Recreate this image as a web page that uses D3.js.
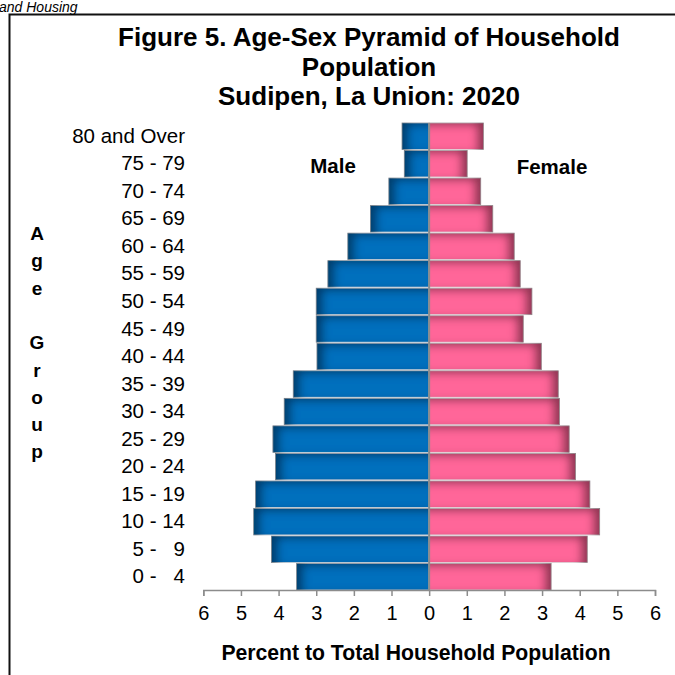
<!DOCTYPE html>
<html>
<head>
<meta charset="utf-8">
<script src="https://cdn.jsdelivr.net/npm/d3@7"></script>
<style>
  body { margin: 0; background: #fff; }
  svg { display: block; font-family: "Liberation Sans", Arial, sans-serif; }
</style>
</head>
<body>
<div id="chart"></div>
<script>
// age groups, bottom to top
var ageGroups = ["0 -   4", "5 -   9", "10 - 14", "15 - 19", "20 - 24", "25 - 29",
  "30 - 34", "35 - 39", "40 - 44", "45 - 49", "50 - 54", "55 - 59",
  "60 - 64", "65 - 69", "70 - 74", "75 - 79", "80 and Over"];

// percent of total household population
var malePct = [3.52, 4.19, 4.66, 4.61, 4.08, 4.15, 3.85, 3.61, 2.98, 3.00,
  3.00, 2.69, 2.16, 1.56, 1.07, 0.66, 0.72];
var femalePct = [3.24, 4.20, 4.53, 4.27, 3.89, 3.72, 3.46, 3.43, 2.98, 2.50,
  2.73, 2.42, 2.26, 1.69, 1.37, 1.01, 1.44];

var xTicks = [-6, -5, -4, -3, -2, -1, 0, 1, 2, 3, 4, 5, 6];

var titleLines = ["Figure 5. Age-Sex Pyramid of Household", "Population", "Sudipen, La Union: 2020"];

var svgWidth = 675;
var svgHeight = 675;

var svg = d3.select("#chart")
  .append("svg")
  .attr("width", svgWidth)
  .attr("height", svgHeight);

// inner shadow filters (male shadow on left edge, female on right edge)
var defs = svg.append("defs");
function innerShadow(id, dx, color) {
  var f = defs.append("filter")
    .attr("id", id)
    .attr("filterUnits", "userSpaceOnUse")
    .attr("x", 0).attr("y", 0)
    .attr("width", svgWidth).attr("height", svgHeight);
  f.append("feFlood").attr("flood-color", color).attr("flood-opacity", 0.75).attr("result", "flood");
  f.append("feComposite").attr("in", "flood").attr("in2", "SourceAlpha").attr("operator", "out").attr("result", "outside");
  f.append("feGaussianBlur").attr("in", "outside").attr("stdDeviation", 4).attr("result", "blur");
  f.append("feOffset").attr("in", "blur").attr("dx", dx).attr("dy", 3).attr("result", "off");
  f.append("feComposite").attr("in", "off").attr("in2", "SourceAlpha").attr("operator", "in").attr("result", "shadow");
  var m = f.append("feMerge");
  m.append("feMergeNode").attr("in", "SourceGraphic");
  m.append("feMergeNode").attr("in", "shadow");
}
innerShadow("shadowMale", 7, "#001a33");
innerShadow("shadowFemale", -7, "#3a0a1c");

// frame around the figure
svg.append("rect")
  .attr("x", 9.5)
  .attr("y", 14.5)
  .attr("width", 700)
  .attr("height", 700)
  .attr("fill", "none")
  .attr("stroke", "#111")
  .attr("stroke-width", 2);

// caption above the frame (left part runs off the page)
svg.append("text")
  .attr("x", -1)
  .attr("y", 12)
  .attr("font-size", "14px")
  .attr("font-style", "italic")
  .text("and Housing");

// title
svg.append("g")
  .selectAll("text")
  .data(titleLines)
  .enter()
  .append("text")
  .attr("x", 369)
  .attr("y", (d, i) => 46 + i * 29.5)
  .attr("text-anchor", "middle")
  .attr("font-size", "26px")
  .attr("font-weight", "bold")
  .text(d => d);

// scales
var xScale = d3.scaleLinear()
  .domain([-6, 6])
  .range([203.3, 655]);

var yScale = d3.scaleBand()
  .domain(ageGroups.slice().reverse())
  .range([123, 590])
  .paddingInner(0.04);

var rows = ageGroups.map((g, i) => ({ group: g, male: malePct[i], female: femalePct[i] }));

// male bars
svg.append("g")
  .selectAll("rect")
  .data(rows)
  .enter()
  .append("rect")
  .attr("x", d => xScale(-d.male))
  .attr("y", d => yScale(d.group))
  .attr("width", d => xScale(0) - xScale(-d.male))
  .attr("height", yScale.bandwidth())
  .attr("fill", "#006fbd")
  .attr("stroke", "#d8dde3")
  .attr("stroke-width", 0.8)
  .attr("filter", "url(#shadowMale)");

// female bars
svg.append("g")
  .selectAll("rect")
  .data(rows)
  .enter()
  .append("rect")
  .attr("x", xScale(0))
  .attr("y", d => yScale(d.group))
  .attr("width", d => xScale(d.female) - xScale(0))
  .attr("height", yScale.bandwidth())
  .attr("fill", "#ff6699")
  .attr("stroke", "#ece4e8")
  .attr("stroke-width", 0.8)
  .attr("filter", "url(#shadowFemale)");

// vertical center line
svg.append("line")
  .attr("x1", xScale(0))
  .attr("x2", xScale(0))
  .attr("y1", 123)
  .attr("y2", 590)
  .attr("stroke", "#8c8c8c")
  .attr("stroke-width", 2);

// bottom axis, labels shown without sign
var bottomAxis = d3.axisBottom(xScale)
  .tickValues(xTicks)
  .tickFormat(d => Math.abs(d))
  .tickSizeInner(6)
  .tickSizeOuter(6)
  .tickPadding(10);

var xAxis = svg.append("g")
  .attr("transform", "translate(0, 590)")
  .call(bottomAxis);

xAxis.select(".domain").attr("stroke", "#8c8c8c").attr("stroke-width", 1.5);
xAxis.selectAll(".tick line").attr("stroke", "#8c8c8c").attr("stroke-width", 1.5);
xAxis.selectAll(".tick text")
  .attr("font-size", "20px")
  .attr("font-family", "Liberation Sans, Arial, sans-serif")
  .attr("fill", "#000");

// left axis with age group labels
var leftAxis = d3.axisLeft(yScale)
  .tickSize(0)
  .tickPadding(0);

var yAxis = svg.append("g")
  .attr("transform", "translate(185, 0)")
  .call(leftAxis);

yAxis.select(".domain").remove();
yAxis.selectAll(".tick text")
  .attr("font-size", "20.5px")
  .attr("font-family", "Liberation Sans, Arial, sans-serif")
  .attr("fill", "#000")
  .style("white-space", "pre");

// Male / Female labels
svg.append("text")
  .attr("x", 333)
  .attr("y", 173)
  .attr("text-anchor", "middle")
  .attr("font-size", "20.5px")
  .attr("font-weight", "bold")
  .text("Male");

svg.append("text")
  .attr("x", 552)
  .attr("y", 174)
  .attr("text-anchor", "middle")
  .attr("font-size", "20.5px")
  .attr("font-weight", "bold")
  .text("Female");

// x axis title
svg.append("text")
  .attr("x", 416)
  .attr("y", 660)
  .attr("text-anchor", "middle")
  .attr("font-size", "21.2px")
  .attr("font-weight", "bold")
  .text("Percent to Total Household Population");

// stacked y axis title
var yTitle = "Age Group".split("");
svg.append("g")
  .selectAll("text")
  .data(yTitle)
  .enter()
  .append("text")
  .attr("x", 37)
  .attr("y", (d, i) => 240 + i * 27.3)
  .attr("text-anchor", "middle")
  .attr("font-size", "19px")
  .attr("font-weight", "bold")
  .text(d => d);
</script>
</body>
</html>
